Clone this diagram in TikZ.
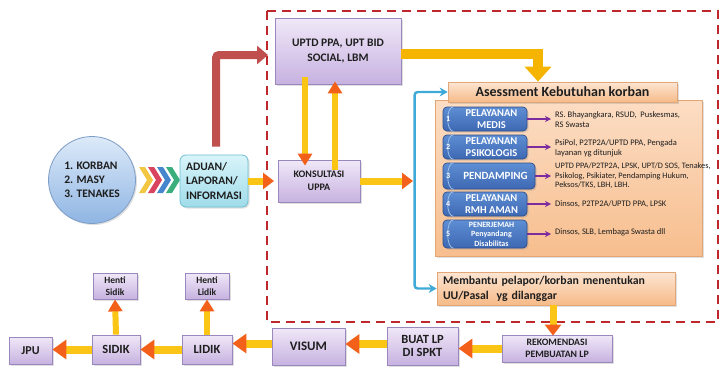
\documentclass[tikz,border=0pt]{standalone}
\usepackage{fontspec}
\setmainfont{Carlito}
\usetikzlibrary{arrows.meta,shadows,calc}
\definecolor{txt}{HTML}{1E1E1E}
\definecolor{lavtop}{HTML}{F0E8F8}
\definecolor{lavbot}{HTML}{C7B2E0}
\definecolor{lavedge}{HTML}{9A87BE}
\definecolor{circtop}{HTML}{DDEAF9}
\definecolor{circbot}{HTML}{8FB5E3}
\definecolor{circedge}{HTML}{7D9DC8}
\definecolor{cyantop}{HTML}{D8F4F9}
\definecolor{cyanbot}{HTML}{A0DCEA}
\definecolor{cyanedge}{HTML}{6CBFD1}
\definecolor{peachtop}{HTML}{FDE6D3}
\definecolor{peachbot}{HTML}{F6BA88}
\definecolor{peachedge}{HTML}{E3A677}
\definecolor{paneltop}{HTML}{FCDDC4}
\definecolor{panelbot}{HTML}{F7BE8E}
\definecolor{itemtop}{HTML}{5E8ED3}
\definecolor{itembot}{HTML}{3D68B3}
\definecolor{itemedge}{HTML}{2E4F8C}
\definecolor{capc}{HTML}{9CC0EA}
\definecolor{purp}{HTML}{7B2C9E}
\definecolor{dashred}{HTML}{C0272D}
\definecolor{redarr}{HTML}{C0504D}
\definecolor{goldarr}{HTML}{F5B400}
\definecolor{arrY}{HTML}{FBC515}
\definecolor{arrO}{HTML}{F2601A}
\definecolor{cyanln}{HTML}{3FAAD8}
\definecolor{chevY}{HTML}{F2C744}
\definecolor{chevR}{HTML}{D8435E}
\definecolor{chevB}{HTML}{4686CC}
\definecolor{chevG}{HTML}{3BAE7D}
\tikzset{
  shad/.style={drop shadow={shadow xshift=1.5pt,shadow yshift=-1.5pt,opacity=0.25}},
  pbox/.style={draw=lavedge, line width=0.8pt, top color=lavtop, bottom color=lavbot,
     text=txt, align=center, inner sep=1pt, shad},
  itembox/.style={draw=itemedge, line width=0.7pt, top color=itemtop, bottom color=itembot,
     rounded corners=4pt, text=white, align=center, inner sep=0pt,
     font=\bfseries\fontsize{10.5}{11.5}\selectfont, shad},
  numtxt/.style={text=white, font=\bfseries\fontsize{8}{8}\selectfont, inner sep=0pt},
  listtxt/.style={anchor=west, align=left, text=txt, inner sep=1pt,
     font=\fontsize{8.5}{10}\selectfont},
  fatarrow/.style={draw=arrY, line width=7pt, -{Triangle[width=16pt,length=11pt,color=arrO]}},
  bigarrow/.style={draw=arrY, line width=8pt, -{Triangle[width=19pt,length=14pt,color=arrO]}},
  parr/.style={draw=purp, line width=1.4pt, -{Stealth[length=6pt,width=6pt]}, shorten >=3pt},
}
\begin{document}
\begin{tikzpicture}[x=1pt,y=-1pt]
\useasboundingbox (0,0) rectangle (722,367);

% dashed border
\draw[dashred, line width=2.4pt, dash pattern=on 9pt off 6pt] (267,11) rectangle (718,322);

% left source
\node[circle, draw=circedge, line width=0.8pt, top color=circtop, bottom color=circbot,
  minimum size=87pt, inner sep=0pt, align=left, text=txt, shad,
  font=\bfseries\fontsize{11.5}{14}\selectfont] (circ) at (92,180)
  {1. KORBAN\\2. MASY\\3. TENAKES};

% chevrons
\foreach \x/\c in {139/chevY,148/chevR,157/chevB,166/chevG}{
  \fill[\c] (\x,167) -- (\x+6,167) -- (\x+14,180) -- (\x+6,193) -- (\x,193) -- (\x+8,180) -- cycle;
}

\node[draw=cyanedge, line width=0.8pt, top color=cyantop, bottom color=cyanbot, rounded corners=6pt,
  minimum width=68pt, minimum height=52pt, inner sep=1pt, align=left, text=txt, shad,
  font=\bfseries\fontsize{11.5}{14.5}\selectfont]
  (aduan) at (214,181) {ADUAN/\\LAPORAN/\\INFORMASI};

% boxes inside border
\node[pbox, font=\bfseries\fontsize{11.5}{15}\selectfont, minimum width=126pt, minimum height=66pt] (uptd) at (338,51)
  {UPTD PPA, UPT BID\\SOCIAL, LBM};
\node[pbox, font=\bfseries\fontsize{10}{13}\selectfont, minimum width=82pt, minimum height=42pt] (kons) at (319,181)
  {KONSULTASI\\UPPA};

% panel
\node[draw=peachedge, line width=0.6pt, top color=paneltop, bottom color=panelbot,
  minimum width=267pt, minimum height=156pt, inner sep=0pt, shad] (panel) at (568.5,178) {};
\node[draw=peachedge, line width=0.7pt, top color=peachtop, bottom color=peachbot,
  minimum width=229pt, minimum height=20pt, inner sep=0pt, text=txt,
  font=\bfseries\fontsize{14}{15}\selectfont, shad] (header) at (562.5,92) {Asessment Kebutuhan korban};

% items
\node[itembox, minimum width=84pt, minimum height=24pt] (i1) at (485,119) {\hspace*{13pt}PELAYANAN\\\hspace*{13pt}MEDIS};
\node[itembox, minimum width=84pt, minimum height=24pt] (i2) at (485,147) {\hspace*{13pt}PELAYANAN\\\hspace*{13pt}PSIKOLOGIS};
\node[itembox, minimum width=92pt, minimum height=26pt, font=\bfseries\fontsize{11}{12}\selectfont] (i3) at (489,176) {\hspace*{13pt}PENDAMPING};
\node[itembox, minimum width=84pt, minimum height=24pt] (i4) at (485,204) {\hspace*{13pt}PELAYANAN\\\hspace*{13pt}RMH AMAN};
\node[itembox, minimum width=84pt, minimum height=28pt, font=\bfseries\fontsize{8}{9.5}\selectfont] (i5) at (485,234) {\hspace*{13pt}PENERJEMAH\\\hspace*{13pt}Penyandang\\\hspace*{13pt}Disabilitas};
\foreach \k in {1,...,5}{
  \draw[capc, line width=0.8pt] ([xshift=11pt]i\k.north west) .. controls ([xshift=3pt]i\k.north west) and ([xshift=3pt]i\k.south west) .. ([xshift=11pt]i\k.south west);
  \node[numtxt] (num\k) at ($(i\k.west)+(5.5,0)$) {\k};
}

\node[listtxt] (t1) at (554,120) {RS. Bhayangkara, RSUD,\ \ Puskesmas,\\RS Swasta};
\node[listtxt] (t2) at (554,148) {PsiPol, P2TP2A/UPTD PPA, Pengada\\layanan yg ditunjuk};
\node[listtxt, font=\fontsize{8.3}{9.6}\selectfont] (t3) at (554,176) {UPTD PPA/P2TP2A, LPSK, UPT/D SOS, Tenakes,\\Psikolog, Psikiater, Pendamping Hukum,\\Peksos/TKS, LBH, LBH.};
\node[listtxt] (t4) at (554,204) {Dinsos, P2TP2A/UPTD PPA, LPSK};
\node[listtxt] (t5) at (554,232) {Dinsos, SLB, Lembaga Swasta dll};
\foreach \k in {1,...,5}{ \draw[parr] (i\k.east) -- (i\k.east -| t\k.west); }

% membantu
\node[draw=peachedge, line width=0.7pt, top color=peachtop, bottom color=peachbot,
  minimum width=238pt, minimum height=33pt, text width=226pt, inner xsep=6pt, align=left, text=txt,
  font=\bfseries\fontsize{11.8}{15}\selectfont, shad] (membantu) at (556,288.5)
  {Membantu pelapor/korban menentukan\\UU/Pasal\ \ yg dilanggar};

% cyan connector
\draw[cyanln, line width=2.4pt, rounded corners=3pt, {Stealth[length=8pt,width=9pt]}-{Stealth[length=8pt,width=9pt]}]
  (header.west) -- ++(-33,0) coordinate (cyantop) |- (membantu.west);
\coordinate (cyanhit) at (413,181);

% bottom row
\node[pbox, font=\bfseries\fontsize{9.8}{12}\selectfont, minimum width=110pt, minimum height=27pt] (rekom) at (557,348.5) {REKOMENDASI\\PEMBUATAN LP};
\node[pbox, font=\bfseries\fontsize{12.5}{13.5}\selectfont, minimum width=71pt, minimum height=38pt] (buat) at (422.5,346) {BUAT LP\\DI SPKT};
\node[pbox, font=\bfseries\fontsize{13}{14}\selectfont, minimum width=73pt, minimum height=37pt] (visum) at (308.5,346.5) {VISUM};
\node[pbox, font=\bfseries\fontsize{12.5}{14}\selectfont, minimum width=50pt, minimum height=29pt] (lidik) at (207,349.5) {LIDIK};
\node[pbox, font=\bfseries\fontsize{12.5}{14}\selectfont, minimum width=48pt, minimum height=29pt] (sidik) at (116,349.5) {SIDIK};
\node[pbox, font=\bfseries\fontsize{12}{14}\selectfont, minimum width=43pt, minimum height=27pt] (jpu) at (30.5,350.5) {JPU};
\node[pbox, font=\bfseries\fontsize{9.5}{12.5}\selectfont, minimum width=44pt, minimum height=26pt] (hsidik) at (115,286) {Henti\\Sidik};
\node[pbox, font=\bfseries\fontsize{9.5}{12.5}\selectfont, minimum width=44pt, minimum height=26pt] (hlidik) at (207,286) {Henti\\Lidik};

% arrows
\coordinate (redend) at (268,55);
\draw[redarr, line width=8pt, rounded corners=3pt, shorten <=8pt, -{Triangle[width=18pt,length=11pt]}]
  ([xshift=2pt]aduan.north) |- (redend);
\draw[goldarr, line width=10pt, -{Triangle[width=26pt,length=15pt]}]
  ([yshift=-3pt]uptd.east) -| ([xshift=-24.5pt]header.north);
\coordinate (bordin) at (274,181);
\draw[fatarrow] (aduan.east) -- (bordin);
\draw[fatarrow] (kons.east) -- (cyanhit);
\draw[fatarrow, line width=6.5pt, -{Triangle[width=14pt,length=12pt,color=arrO]}] ([xshift=-33pt,yshift=7pt]uptd.south) -- ([xshift=-14pt,yshift=-6pt]kons.north);
\draw[fatarrow, line width=6.5pt, -{Triangle[width=14pt,length=12pt,color=arrO]}] ([xshift=16pt,yshift=-10pt]kons.north) -- ([xshift=-3pt,yshift=3pt]uptd.south);
\draw[fatarrow] ([xshift=-3pt]membantu.south) -- ([xshift=-4pt,yshift=-1pt]rekom.north);
\draw[bigarrow] (rekom.west) -- (rekom.west -| buat.east);
\draw[bigarrow] ([yshift=2pt]buat.west) -- ([yshift=2pt]buat.west -| visum.east);
\draw[bigarrow] ([yshift=3pt]visum.west) -- ([yshift=3pt]visum.west -| lidik.east);
\draw[bigarrow] (lidik.west) -- (lidik.west -| sidik.east);
\draw[bigarrow] (sidik.west) -- (sidik.west -| jpu.east);
\draw[fatarrow, line width=6pt, -{Triangle[width=14pt,length=12pt,color=arrO]}] (sidik.north) -- (hsidik.south);
\draw[fatarrow, line width=6pt, -{Triangle[width=14pt,length=12pt,color=arrO]}] (lidik.north) -- (hlidik.south);
\end{tikzpicture}
\end{document}
